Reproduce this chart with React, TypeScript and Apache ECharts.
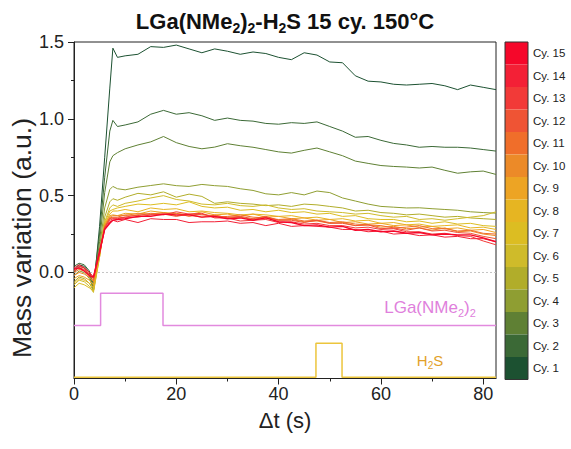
import React, { useEffect, useRef } from "react";
import * as echarts from "echarts";

// Time axis (s)
const T = [0, 1, 2, 3, 3.8, 5, 6, 7, 7.6, 8.5, 10, 12.5, 15, 17.5, 20, 22.5, 25, 27.5, 30, 32.5, 35, 37.5, 40, 42.5, 45, 47.5, 50, 52.5, 55, 57.5, 60, 62.5, 65, 67.5, 70, 72.5, 75, 77.5, 80, 82.5];

const cy1 = [0.02, 0.05, 0.04, 0.0, -0.12, 0.3, 0.75, 1.2, 1.46, 1.4, 1.41, 1.42, 1.47, 1.465, 1.48, 1.455, 1.43, 1.455, 1.44, 1.42, 1.435, 1.425, 1.4, 1.385, 1.43, 1.415, 1.37, 1.365, 1.28, 1.245, 1.24, 1.225, 1.22, 1.225, 1.23, 1.215, 1.19, 1.22, 1.205, 1.19];
const cy2 = [0.04, 0.06, 0.05, 0.01, -0.08, 0.25, 0.62, 0.92, 0.99, 0.95, 0.96, 0.98, 1.03, 1.055, 1.03, 1.04, 1.02, 0.99, 1.005, 0.99, 0.985, 0.97, 0.965, 0.975, 0.97, 0.98, 0.95, 0.92, 0.88, 0.885, 0.86, 0.84, 0.83, 0.815, 0.82, 0.815, 0.815, 0.81, 0.8, 0.79];
const cy3 = [0.0, 0.04, 0.03, -0.02, -0.1, 0.2, 0.52, 0.72, 0.76, 0.78, 0.805, 0.83, 0.85, 0.885, 0.845, 0.82, 0.805, 0.816, 0.838, 0.825, 0.815, 0.8, 0.785, 0.777, 0.795, 0.81, 0.785, 0.76, 0.725, 0.71, 0.696, 0.69, 0.686, 0.68, 0.686, 0.665, 0.646, 0.655, 0.66, 0.638];
const cy4 = [-0.02, 0.01, 0.0, -0.04, -0.11, 0.16, 0.42, 0.54, 0.56, 0.545, 0.538, 0.555, 0.566, 0.577, 0.565, 0.56, 0.573, 0.565, 0.56, 0.545, 0.534, 0.512, 0.505, 0.52, 0.505, 0.53, 0.52, 0.485, 0.465, 0.445, 0.43, 0.425, 0.42, 0.421, 0.415, 0.41, 0.405, 0.395, 0.39, 0.386];
const cy5 = [-0.06, -0.03, -0.04, -0.07, -0.12, 0.12, 0.36, 0.46, 0.48, 0.47, 0.49, 0.515, 0.505, 0.525, 0.49, 0.51, 0.495, 0.45, 0.46, 0.45, 0.445, 0.435, 0.44, 0.43, 0.445, 0.44, 0.43, 0.42, 0.4, 0.405, 0.39, 0.385, 0.375, 0.38, 0.37, 0.36, 0.365, 0.355, 0.35, 0.345];
const cy6 = [-0.08, -0.05, -0.06, -0.09, -0.13, 0.1, 0.33, 0.42, 0.44, 0.43, 0.45, 0.465, 0.485, 0.5, 0.475, 0.465, 0.445, 0.44, 0.45, 0.435, 0.43, 0.44, 0.42, 0.41, 0.415, 0.4, 0.395, 0.39, 0.38, 0.385, 0.37, 0.36, 0.365, 0.345, 0.35, 0.34, 0.35, 0.36, 0.37, 0.395];
const cy7 = [-0.1, -0.07, -0.08, -0.1, -0.12, 0.1, 0.32, 0.4, 0.41, 0.42, 0.43, 0.445, 0.44, 0.45, 0.44, 0.46, 0.43, 0.42, 0.425, 0.405, 0.41, 0.395, 0.405, 0.39, 0.395, 0.38, 0.385, 0.365, 0.37, 0.35, 0.345, 0.345, 0.33, 0.335, 0.32, 0.33, 0.315, 0.32, 0.305, 0.3];
const cy8 = [-0.07, -0.04, -0.05, -0.07, -0.1, 0.11, 0.31, 0.38, 0.4, 0.4, 0.41, 0.395, 0.42, 0.41, 0.415, 0.395, 0.4, 0.39, 0.385, 0.375, 0.38, 0.375, 0.365, 0.37, 0.355, 0.36, 0.345, 0.35, 0.335, 0.34, 0.32, 0.325, 0.31, 0.315, 0.3, 0.305, 0.31, 0.29, 0.295, 0.28];
const cy9 = [-0.04, -0.02, -0.03, -0.05, -0.08, 0.12, 0.31, 0.37, 0.375, 0.37, 0.385, 0.38, 0.4, 0.39, 0.385, 0.375, 0.395, 0.375, 0.38, 0.365, 0.38, 0.36, 0.365, 0.35, 0.355, 0.34, 0.345, 0.325, 0.33, 0.315, 0.32, 0.305, 0.31, 0.295, 0.3, 0.285, 0.29, 0.275, 0.28, 0.26];
const cy10 = [-0.02, 0.0, -0.01, -0.03, -0.06, 0.12, 0.3, 0.36, 0.37, 0.37, 0.37, 0.385, 0.38, 0.39, 0.37, 0.375, 0.36, 0.375, 0.355, 0.36, 0.345, 0.36, 0.34, 0.345, 0.33, 0.335, 0.32, 0.325, 0.305, 0.31, 0.295, 0.3, 0.285, 0.29, 0.275, 0.29, 0.265, 0.27, 0.25, 0.24];
const cy11 = [0.0, 0.02, 0.01, -0.02, -0.05, 0.13, 0.3, 0.355, 0.36, 0.36, 0.375, 0.37, 0.385, 0.38, 0.385, 0.365, 0.38, 0.36, 0.365, 0.375, 0.36, 0.355, 0.345, 0.35, 0.335, 0.34, 0.325, 0.33, 0.315, 0.31, 0.305, 0.29, 0.295, 0.305, 0.285, 0.285, 0.27, 0.275, 0.255, 0.25];
const cy12 = [0.01, 0.03, 0.02, -0.01, -0.04, 0.13, 0.29, 0.35, 0.355, 0.355, 0.36, 0.375, 0.375, 0.38, 0.365, 0.38, 0.375, 0.37, 0.36, 0.365, 0.35, 0.365, 0.34, 0.34, 0.325, 0.34, 0.32, 0.32, 0.305, 0.31, 0.285, 0.29, 0.275, 0.29, 0.27, 0.275, 0.26, 0.255, 0.235, 0.22];
const cy13 = [0.02, 0.04, 0.03, 0.0, -0.03, 0.13, 0.29, 0.34, 0.35, 0.35, 0.36, 0.36, 0.375, 0.375, 0.395, 0.38, 0.385, 0.355, 0.355, 0.335, 0.34, 0.345, 0.325, 0.33, 0.315, 0.32, 0.305, 0.305, 0.29, 0.295, 0.28, 0.285, 0.265, 0.265, 0.25, 0.255, 0.24, 0.235, 0.205, 0.18];
const cy14 = [0.03, 0.05, 0.03, 0.0, -0.03, 0.12, 0.28, 0.33, 0.34, 0.33, 0.345, 0.325, 0.35, 0.345, 0.345, 0.325, 0.33, 0.33, 0.335, 0.32, 0.325, 0.305, 0.32, 0.3, 0.305, 0.3, 0.295, 0.28, 0.28, 0.265, 0.27, 0.25, 0.255, 0.24, 0.245, 0.23, 0.235, 0.22, 0.22, 0.2];
const cy15 = [0.02, 0.03, 0.01, -0.02, -0.03, 0.14, 0.28, 0.32, 0.34, 0.345, 0.35, 0.365, 0.365, 0.38, 0.375, 0.375, 0.36, 0.365, 0.35, 0.355, 0.34, 0.355, 0.33, 0.325, 0.305, 0.31, 0.295, 0.3, 0.275, 0.28, 0.265, 0.27, 0.255, 0.26, 0.245, 0.25, 0.245, 0.245, 0.225, 0.2];

const CYCLES = [cy1, cy2, cy3, cy4, cy5, cy6, cy7, cy8, cy9, cy10, cy11, cy12, cy13, cy14, cy15];
const CYCLE_NAMES = ["Cy. 1", "Cy. 2", "Cy. 3", "Cy. 4", "Cy. 5", "Cy. 6", "Cy. 7", "Cy. 8", "Cy. 9", "Cy. 10", "Cy. 11", "Cy. 12", "Cy. 13", "Cy. 14", "Cy. 15"];
const CYCLE_COLORS = ["#1c5131", "#3b6936", "#5f8034", "#8f9e32", "#b1ad2a", "#cfbb2a", "#dcbd22", "#e6b522", "#eda424", "#ec8a28", "#f06e2a", "#ef5434", "#f23a38", "#f32036", "#f5072a"];

// Precursor pulse traces (schematic)
const LGA_PULSE_T = [0, 5.2, 5.2, 17.4, 17.4, 82.5];
const LGA_PULSE_Y = [-0.345, -0.345, -0.135, -0.135, -0.345, -0.345];
const H2S_PULSE_T = [0, 47.3, 47.3, 52.4, 52.4, 82.5];
const H2S_PULSE_Y = [-0.682, -0.682, -0.46, -0.46, -0.682, -0.682];

const X_MAJOR = [0, 20, 40, 60, 80];
const X_MINOR = [10, 30, 50, 70];
const Y_MAJOR = [0, 0.5, 1.0, 1.5];
const Y_MINOR = [0.25, 0.75, 1.25];

const FONT = "'Liberation Sans', Arial, sans-serif";
const AXIS_COLOR = "#222";

export default function App() {
  const ref = useRef<HTMLDivElement>(null);

  useEffect(() => {
    if (!ref.current) return;
    const chart = echarts.init(ref.current, undefined, { renderer: "svg" });

    const cycleSeries = CYCLES.map((vals, i) => ({
      type: "line",
      name: CYCLE_NAMES[i],
      data: T.map((t, j) => [t, vals[j]]),
      showSymbol: false,
      symbol: "none",
      lineStyle: { width: i === 14 ? 1.4 : 1, color: CYCLE_COLORS[i] },
      itemStyle: { color: CYCLE_COLORS[i] },
      xAxisIndex: 0,
      yAxisIndex: 0,
      z: 3,
    }));

    const option: any = {
      animation: false,
      backgroundColor: "#fff",
      textStyle: { fontFamily: FONT },
      grid: {
        left: 74,
        top: 42,
        right: 75,
        bottom: 70.5,
        show: true,
        borderColor: AXIS_COLOR,
        borderWidth: 1,
        backgroundColor: "transparent",
        containLabel: false,
      },
      legend: {
        data: CYCLE_NAMES.slice().reverse(),
        orient: "vertical",
        left: 505,
        top: 42,
        padding: 0,
        itemGap: 0,
        itemWidth: 23,
        itemHeight: 22.5,
        icon: "rect",
        selectedMode: false,
        itemStyle: { borderWidth: 0 },
        textStyle: { fontSize: 11.5, color: "#222", fontFamily: FONT },
      },
      xAxis: [
        {
          type: "value",
          min: 0,
          max: 82.5,
          position: "bottom",
          axisLine: { show: true, onZero: false, lineStyle: { color: AXIS_COLOR, width: 1 } },
          axisTick: { show: true, inside: false, length: 6, customValues: X_MAJOR, lineStyle: { color: AXIS_COLOR } },
          axisLabel: { customValues: X_MAJOR, fontSize: 18, color: "#222", margin: 6, fontFamily: FONT },
          splitLine: { show: false },
          name: "Δt (s)",
          nameLocation: "middle",
          nameGap: 31,
          nameTextStyle: { fontSize: 22, color: "#222", fontFamily: FONT },
        },
        {
          type: "value",
          min: 0,
          max: 82.5,
          position: "bottom",
          axisLine: { show: false, onZero: false },
          axisTick: { show: true, inside: false, length: 3, customValues: X_MINOR, lineStyle: { color: AXIS_COLOR } },
          axisLabel: { show: false },
          splitLine: { show: false },
        },
      ],
      yAxis: [
        {
          type: "value",
          min: -0.69,
          max: 1.5,
          position: "left",
          axisLine: { show: true, onZero: false, lineStyle: { color: AXIS_COLOR, width: 1 } },
          axisTick: { show: true, inside: false, length: 6, customValues: Y_MAJOR, lineStyle: { color: AXIS_COLOR } },
          axisLabel: {
            customValues: Y_MAJOR,
            fontSize: 18,
            color: "#222",
            margin: 10,
            fontFamily: FONT,
            formatter: (v: number) => v.toFixed(1),
          },
          splitLine: { show: false },
        },
        {
          type: "value",
          min: -0.69,
          max: 1.5,
          position: "left",
          axisLine: { show: false, onZero: false },
          axisTick: { show: true, inside: false, length: 3, customValues: Y_MINOR, lineStyle: { color: AXIS_COLOR } },
          axisLabel: { show: false },
          splitLine: { show: false },
        },
      ],
      series: [
        {
          type: "line",
          name: "zero",
          data: [[0, 0], [82.5, 0]],
          showSymbol: false,
          symbol: "none",
          lineStyle: { width: 1, color: "#c4c4c4", type: [2, 2] },
          z: 1,
        },
        {
          type: "line",
          name: "LGa pulse",
          data: LGA_PULSE_T.map((t, i) => [t, LGA_PULSE_Y[i]]),
          showSymbol: false,
          symbol: "none",
          lineStyle: { width: 1.5, color: "#e28ade" },
          z: 2,
        },
        {
          type: "line",
          name: "H2S pulse",
          data: H2S_PULSE_T.map((t, i) => [t, H2S_PULSE_Y[i]]),
          showSymbol: false,
          symbol: "none",
          lineStyle: { width: 1.5, color: "#ecc53c" },
          z: 2,
        },
        ...cycleSeries,
      ],
      graphic: [
        {
          type: "text",
          x: 285,
          y: 21,
          style: {
            text: "{m|LGa(NMe}{s|2}{m|)}{s|2}{m|-H}{s|2}{m|S 15 cy. 150°C}",
            align: "center",
            verticalAlign: "middle",
            rich: {
              m: { font: `bold 22px ${FONT}`, fill: "#111", lineHeight: 28 },
              s: { font: `bold 14px ${FONT}`, fill: "#111", lineHeight: 14, verticalAlign: "bottom" },
            },
          },
        },
        {
          type: "text",
          x: 22,
          y: 238,
          rotation: Math.PI / 2,
          style: {
            text: "Mass variation (a.u.)",
            font: `26.5px ${FONT}`,
            fill: "#222",
            align: "center",
            verticalAlign: "middle",
          },
        },
        {
          type: "text",
          x: 430,
          y: 307,
          style: {
            text: "{m|LGa(NMe}{s|2}{m|)}{s|2}",
            align: "center",
            verticalAlign: "middle",
            rich: {
              m: { fontSize: 17, fontFamily: FONT, fill: "#e07fdc", lineHeight: 23 },
              s: { fontSize: 11, fontFamily: FONT, fill: "#e07fdc", lineHeight: 11, verticalAlign: "bottom" },
            },
          },
        },
        {
          type: "text",
          x: 430,
          y: 360,
          style: {
            text: "{m|H}{s|2}{m|S}",
            align: "center",
            verticalAlign: "middle",
            rich: {
              m: { fontSize: 15, fontFamily: FONT, fill: "#e2a12a", lineHeight: 20 },
              s: { fontSize: 10, fontFamily: FONT, fill: "#e2a12a", lineHeight: 10, verticalAlign: "bottom" },
            },
          },
        },
        {
          type: "rect",
          shape: { x: 505, y: 42, width: 23, height: 337.5 },
          style: { fill: "none", stroke: "#333", lineWidth: 1 },
          z: 100,
        },
      ],
    };

    chart.setOption(option);
    return () => chart.dispose();
  }, []);

  return (
    <div
      ref={ref}
      style={{ position: "fixed", left: 0, top: 0, width: 571, height: 449, background: "#fff" }}
    />
  );
}
